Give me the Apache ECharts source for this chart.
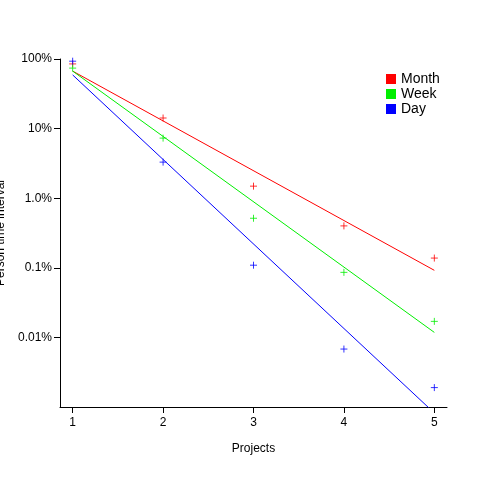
<!DOCTYPE html><html><head><meta charset="utf-8">
<script src="https://cdn.jsdelivr.net/npm/echarts@6/dist/echarts.min.js"></script>
<style>html,body{margin:0;background:#fff}#c{width:480px;height:480px}</style></head><body><div id="c"></div><script>
const projects=[1,2,3,4,5];
const month=[0.85,0.142,0.0149,0.0040,0.00138];
const week=[0.74,0.073,0.00515,0.00086,0.00017];
const day=[0.93,0.033,0.00109,0.000068,0.000019];
const fitX=[1,5];
const monthFit=[0.67,0.00092];
const weekFit=[0.67,0.000118];
const dayFit=[0.59,0.0000082];
const yTicks=[1,0.1,0.01,0.001,0.0001];
const yLabels={1:'100%',0.1:'10%',0.01:'1.0%',0.001:'0.1%',0.0001:'0.01%'};
const plus='path://M0,5L10,5M5,0L5,10';
const pairs=(xs,ys)=>xs.map((x,i)=>[x,ys[i]]);
const names=['Month','Week','Day'],cols=['#ff0000','#00ee00','#0000ff'];
const pts=[month,week,day],fits=[monthFit,weekFit,dayFit];
const series=[];
names.forEach((n,i)=>{
 series.push({name:n,type:'line',data:pairs(fitX,fits[i]),symbol:'none',lineStyle:{color:cols[i],width:1},itemStyle:{color:cols[i]},clip:true,z:2,emphasis:{disabled:true}});
 series.push({type:'scatter',data:pairs(projects,pts[i]),symbol:plus,symbolSize:7,itemStyle:{color:'none',borderColor:cols[i],borderWidth:1},z:3});
});
const ch=echarts.init(document.getElementById('c'));
ch.setOption({animation:false,
 grid:{left:60,right:33,top:59,bottom:73,containLabel:false,outerBoundsMode:'none'},
 legend:{data:names.map((n,i)=>({name:n,itemStyle:{color:cols[i]}})),orient:'vertical',left:381,top:67,itemWidth:10,itemHeight:10,itemGap:1,icon:'rect',textStyle:{fontSize:14,color:'#000',fontFamily:'Liberation Sans'}},
 xAxis:{type:'value',min:0.86,max:5.14,name:'Projects',nameLocation:'middle',nameGap:36,nameTextStyle:{fontSize:12,color:'#000',fontFamily:'Liberation Sans'},
  axisLine:{lineStyle:{color:'#000'}},axisTick:{customValues:projects,length:6,lineStyle:{color:'#000'}},axisLabel:{customValues:projects,color:'#000',fontSize:12,fontFamily:'Liberation Sans',margin:10},splitLine:{show:false}},
 yAxis:{type:'log',min:0.00001,max:1,name:'Person time interval',nameLocation:'middle',nameGap:48,nameTextStyle:{fontSize:12,color:'#000',fontFamily:'Liberation Sans'},
  axisLine:{show:true,lineStyle:{color:'#000'}},axisTick:{show:true,customValues:yTicks,length:6,lineStyle:{color:'#000'}},
  axisLabel:{customValues:yTicks,formatter:v=>{for(const k of yTicks){if(Math.abs(Math.log10(v)-Math.log10(k))<1e-6)return yLabels[k];}return '';},color:'#000',fontSize:12,fontFamily:'Liberation Sans',margin:8},splitLine:{show:false}},
 series});
</script></body></html>
